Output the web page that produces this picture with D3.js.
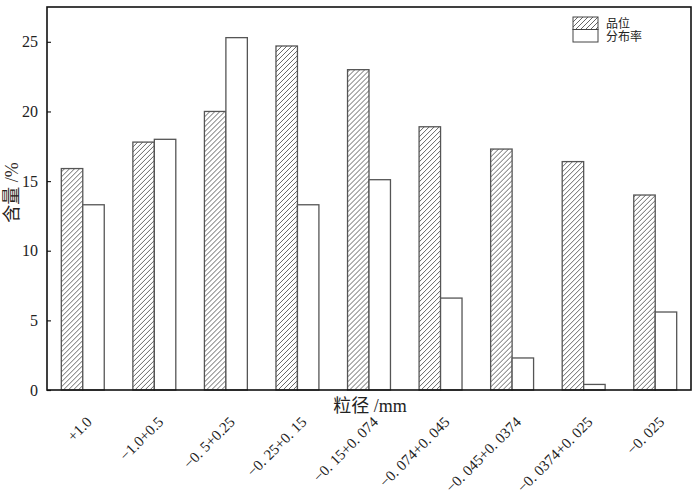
<!DOCTYPE html>
<html>
<head>
<meta charset="utf-8">
<script src="https://cdn.jsdelivr.net/npm/d3@7"></script>
<style>
  body { margin: 0; background: #fff; }
  svg { display: block; }
</style>
</head>
<body>
<svg id="chart" width="700" height="502"></svg>
<script>
const categories = ["+1.0", "\u22121.0+0.5", "\u22120. 5+0.25", "\u22120. 25+0. 15", "\u22120. 15+0. 074",
  "\u22120. 074+0. 045", "\u22120. 045+0. 0374", "\u22120. 0374+0. 025", "\u22120. 025"];
const grade = [15.9, 17.8, 20.0, 24.7, 23.0, 18.9, 17.3, 16.4, 14.0];
const distribution = [13.3, 18.0, 25.3, 13.3, 15.1, 6.6, 2.3, 0.4, 5.6];
const seriesNames = ["品位", "分布率"];
const yTicks = [0, 5, 10, 15, 20, 25];

const serif = "'Liberation Serif', 'Noto Sans CJK SC', serif";

const svg = d3.select("#chart");
const margin = { top: 7, right: 9, bottom: 112, left: 47 };
const innerWidth = 700 - margin.left - margin.right;
const innerHeight = 502 - margin.top - margin.bottom;

const defs = svg.append("defs");
const pat = defs.append("pattern")
    .attr("id", "hatch")
    .attr("patternUnits", "userSpaceOnUse")
    .attr("width", 5)
    .attr("height", 5);
pat.append("rect").attr("width", 5).attr("height", 5).attr("fill", "#fff");
pat.append("path")
    .attr("d", "M-1,6 L6,-1 M-1,1 L1,-1 M4,6 L6,4")
    .attr("stroke", "#555")
    .attr("stroke-width", 0.9);

const g = svg.append("g").attr("transform", `translate(${margin.left},${margin.top})`);

const x0 = d3.scaleBand()
    .domain(categories)
    .range([0, innerWidth])
    .paddingInner(0.4)
    .paddingOuter(0.2);

const x1 = d3.scaleBand()
    .domain(seriesNames)
    .range([0, x0.bandwidth()]);

const y = d3.scaleLinear()
    .domain([0, 27.5])
    .range([innerHeight, 0]);

// bars
const rows = categories.map((c, i) => ({ cat: c, values: [grade[i], distribution[i]] }));
const groups = g.selectAll(".group")
    .data(rows)
    .enter()
    .append("g")
    .attr("transform", d => `translate(${x0(d.cat)},0)`);

groups.selectAll("rect")
    .data(d => d.values.map((v, k) => ({ key: seriesNames[k], value: v })))
    .enter()
    .append("rect")
    .attr("x", d => x1(d.key))
    .attr("y", d => y(d.value))
    .attr("width", x1.bandwidth())
    .attr("height", d => innerHeight - y(d.value))
    .attr("fill", d => d.key === "品位" ? "url(#hatch)" : "#fff")
    .attr("stroke", "#555")
    .attr("stroke-width", 1.3);

// y axis, ticks inward
const yAxis = g.append("g")
    .call(d3.axisLeft(y).tickValues(yTicks).tickSize(-4).tickPadding(9));
yAxis.select(".domain").remove();
yAxis.selectAll("line").attr("stroke", "#222").attr("stroke-width", 1.2);
yAxis.selectAll("text")
    .style("font-family", serif)
    .style("font-size", "16px")
    .attr("fill", "#222");

// x axis labels
const xAxis = g.append("g")
    .attr("transform", `translate(0,${innerHeight})`)
    .call(d3.axisBottom(x0).tickSize(0).tickPadding(0));
xAxis.select(".domain").remove();
xAxis.selectAll("text")
    .style("font-family", serif)
    .style("font-size", "15px")
    .attr("fill", "#222")
    .attr("text-anchor", "end")
    .attr("dy", null)
    .attr("y", null)
    .attr("transform", "translate(10,33) rotate(-45)");

// frame
g.append("rect")
    .attr("width", innerWidth)
    .attr("height", innerHeight)
    .attr("fill", "none")
    .attr("stroke", "#111")
    .attr("stroke-width", 1.6);

// axis titles
g.append("text")
    .attr("x", 323)
    .attr("y", innerHeight + 22)
    .attr("text-anchor", "middle")
    .style("font-family", serif)
    .style("font-size", "18px")
    .attr("fill", "#222")
    .text("粒径 /mm");

g.append("text")
    .attr("transform", `translate(${-29},${innerHeight / 2 - 6}) rotate(-90)`)
    .attr("text-anchor", "middle")
    .style("font-family", serif)
    .style("font-size", "18px")
    .attr("fill", "#2a2320")
    .text("含量 /%");

// legend
const legend = g.append("g").attr("transform", "translate(526,10)");
seriesNames.forEach((name, i) => {
    legend.append("rect")
        .attr("x", 0)
        .attr("y", i * 12.5)
        .attr("width", 25)
        .attr("height", 12.5)
        .attr("fill", i === 0 ? "url(#hatch)" : "#fff")
        .attr("stroke", "#444")
        .attr("stroke-width", 1);
    legend.append("text")
        .attr("x", 33)
        .attr("y", i * 13 + 10.5)
        .style("font-family", "'Noto Sans CJK SC', sans-serif")
        .style("font-size", "12px")
        .attr("fill", "#222")
        .text(name);
});
</script>
</body>
</html>
